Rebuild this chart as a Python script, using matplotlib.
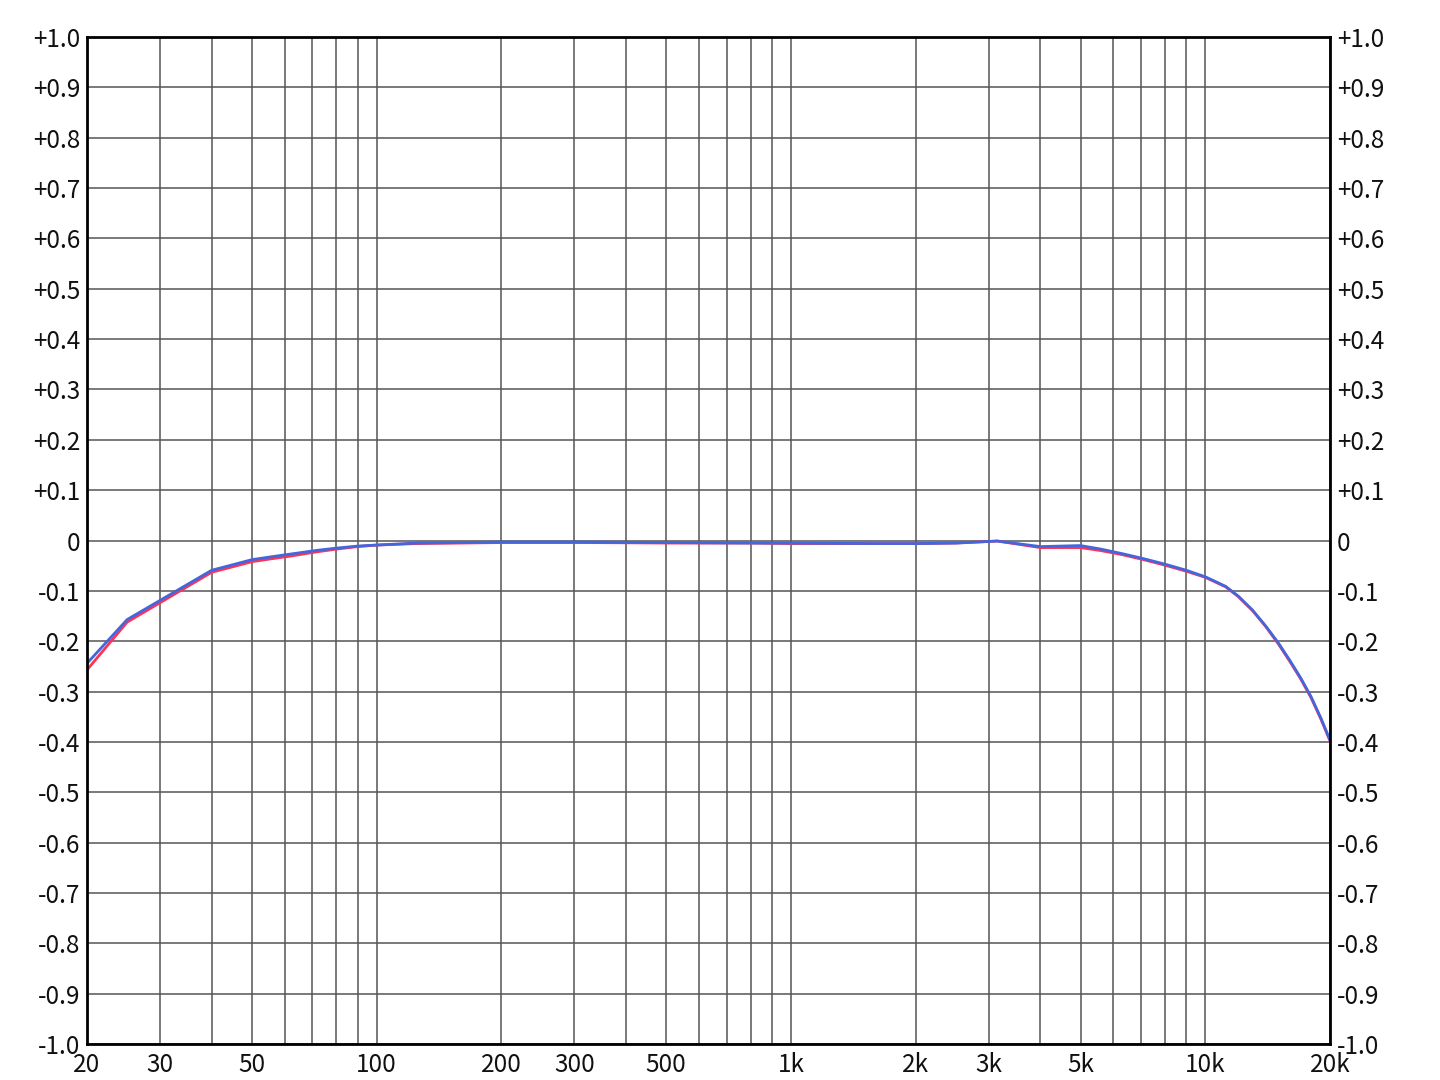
import matplotlib
matplotlib.use("Agg")
import matplotlib.pyplot as plt
from matplotlib.ticker import FixedLocator, FixedFormatter, NullFormatter

plt.rcParams['font.family'] = ['Noto Sans CJK JP', 'DejaVu Sans']

# === Data ===
freq = [20, 25, 40, 45, 50, 56, 63, 71, 80, 90, 100, 125, 160, 200, 315, 500,
        800, 1000, 1600, 2000, 2500, 3150, 4000, 5000, 5600, 6300, 7100, 8000,
        9000, 10000, 11200, 12000, 13000, 14000, 15000, 16000, 17000, 18000,
        19000, 20000]
left_ch = [-0.257, -0.162, -0.063, -0.052, -0.042, -0.036, -0.030, -0.023,
           -0.017, -0.012, -0.009, -0.006, -0.005, -0.004, -0.004, -0.005,
           -0.005, -0.006, -0.006, -0.006, -0.005, -0.001, -0.014, -0.014,
           -0.020, -0.028, -0.038, -0.049, -0.061, -0.073, -0.092, -0.111,
           -0.139, -0.171, -0.205, -0.240, -0.275, -0.312, -0.354, -0.398]
right_ch = [-0.244, -0.157, -0.059, -0.048, -0.038, -0.032, -0.026, -0.020,
            -0.015, -0.011, -0.009, -0.005, -0.004, -0.003, -0.003, -0.004,
            -0.005, -0.005, -0.006, -0.006, -0.005, -0.001, -0.012, -0.010,
            -0.017, -0.026, -0.036, -0.047, -0.059, -0.072, -0.091, -0.110,
            -0.138, -0.170, -0.203, -0.238, -0.273, -0.310, -0.352, -0.396]

x_ticks = [20, 30, 50, 100, 200, 300, 500, 1000, 2000, 3000, 5000, 10000, 20000]
x_labels = ["20", "30", "50", "100", "200", "300", "500", "1k", "2k", "3k", "5k", "10k", "20k"]
x_grid = [20, 30, 40, 50, 60, 70, 80, 90, 100, 200, 300, 400, 500, 600, 700, 800, 900,
          1000, 2000, 3000, 4000, 5000, 6000, 7000, 8000, 9000, 10000, 20000]
y_ticks = [i / 10 for i in range(-10, 11)]
y_labels = [("+%.1f" % v if v > 0 else ("0" if v == 0 else "%.1f" % v)) for v in y_ticks]

# === Figure ===
fig = plt.figure(figsize=(14.4, 10.8), dpi=100)
ax = fig.add_axes([0.0604, 0.0333, 0.8632, 0.9324])

ax.set_xscale("log")
ax.set_xlim(20, 20000)
ax.set_ylim(-1.0, 1.0)

# grid
for g in x_grid:
    ax.axvline(g, color="#555555", lw=1.1, zorder=1)
for v in y_ticks:
    ax.axhline(v, color="#555555", lw=1.1, zorder=1)

ax.plot(freq, left_ch, color="#ff3355", lw=2, zorder=3)
ax.plot(freq, right_ch, color="#4466dd", lw=2, zorder=4)

ax.xaxis.set_major_locator(FixedLocator(x_ticks))
ax.xaxis.set_major_formatter(FixedFormatter(x_labels))
ax.xaxis.set_minor_formatter(NullFormatter())
ax.xaxis.set_minor_locator(FixedLocator([]))
ax.set_yticks(y_ticks)
ax.set_yticklabels(y_labels)

ax.tick_params(axis="both", length=0, labelsize=17.5, colors="#111111")
ax.tick_params(axis="x", pad=6)
ax.tick_params(axis="y", pad=5, labelright=True)

for s in ax.spines.values():
    s.set_linewidth(2)
    s.set_color("black")
    s.set_zorder(5)

fig.savefig("out.png", dpi=100, facecolor="white")
